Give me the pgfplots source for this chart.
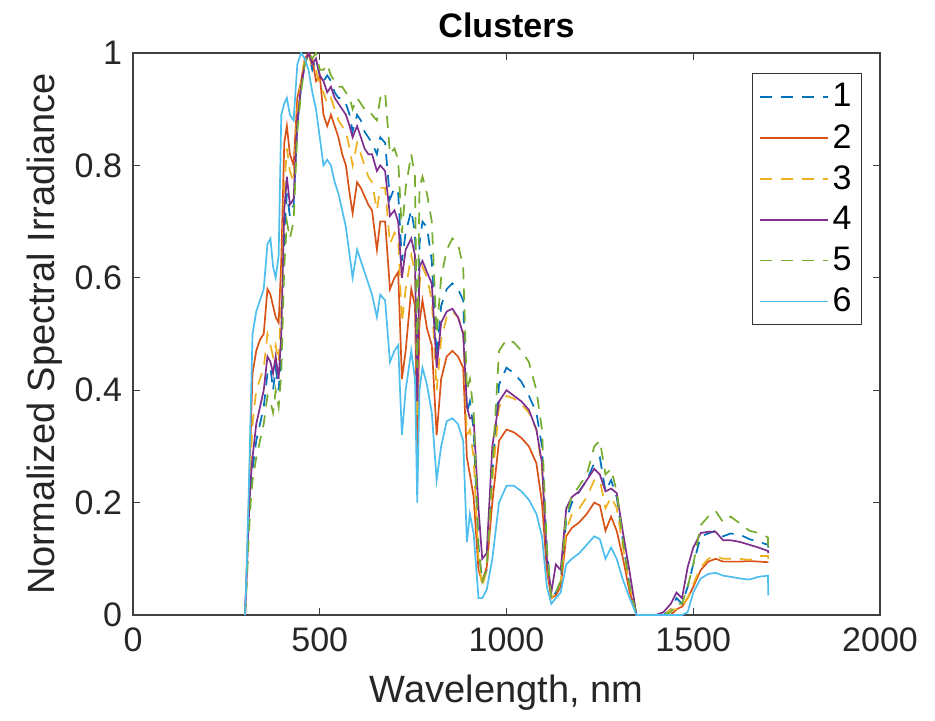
\documentclass[border=0pt]{standalone}
\usepackage{fontspec}
\setmainfont{Liberation Sans}
\usepackage{pgfplots}
\usepackage{pgfplotstable}
\pgfplotsset{compat=1.18}
\definecolor{c1}{rgb}{0,0.447,0.741}
\definecolor{c2}{rgb}{0.850,0.325,0.098}
\definecolor{c3}{rgb}{0.929,0.694,0.125}
\definecolor{c4}{rgb}{0.494,0.184,0.556}
\definecolor{c5}{rgb}{0.466,0.674,0.188}
\definecolor{c6}{rgb}{0.301,0.745,0.933}
\pgfplotstableread{
x s1 s2 s3 s4 s5 s6
300 0.00 0.00 0.00 0.00 0.00 0.00
305 0.08 0.09 0.08 0.08 0.06 0.10
310 0.16 0.20 0.18 0.17 0.14 0.22
315 0.22 0.32 0.27 0.24 0.20 0.36
320 0.26 0.43 0.34 0.28 0.24 0.50
330 0.31 0.47 0.40 0.34 0.28 0.54
340 0.34 0.49 0.42 0.37 0.31 0.56
350 0.37 0.50 0.44 0.40 0.34 0.58
360 0.43 0.58 0.50 0.46 0.39 0.66
368 0.44 0.57 0.48 0.45 0.38 0.67
375 0.40 0.55 0.46 0.43 0.36 0.62
382 0.44 0.53 0.48 0.46 0.40 0.60
390 0.40 0.52 0.45 0.42 0.37 0.64
397 0.47 0.63 0.56 0.50 0.43 0.89
405 0.68 0.84 0.76 0.72 0.62 0.91
412 0.75 0.87 0.83 0.78 0.70 0.92
420 0.71 0.82 0.79 0.73 0.67 0.89
430 0.73 0.80 0.77 0.74 0.70 0.88
440 0.87 0.92 0.90 0.88 0.86 0.98
450 0.94 0.95 0.95 0.94 0.93 1.00
460 0.98 0.99 0.99 0.98 0.98 0.99
470 1.00 1.00 1.00 1.00 1.00 0.97
480 0.97 0.99 0.97 0.98 0.99 0.93
490 0.99 0.95 0.97 0.99 1.00 0.90
500 0.96 0.96 0.94 0.96 0.97 0.85
510 0.95 0.89 0.93 0.95 0.97 0.80
520 0.96 0.87 0.91 0.93 0.98 0.81
530 0.95 0.89 0.92 0.94 0.96 0.80
540 0.93 0.87 0.90 0.92 0.95 0.77
550 0.92 0.85 0.88 0.91 0.94 0.75
560 0.92 0.82 0.87 0.90 0.94 0.72
570 0.91 0.80 0.86 0.89 0.93 0.69
580 0.89 0.75 0.83 0.87 0.92 0.64
588 0.86 0.715 0.80 0.85 0.90 0.60
600 0.89 0.77 0.84 0.87 0.92 0.65
610 0.88 0.76 0.82 0.85 0.91 0.63
620 0.86 0.745 0.80 0.83 0.90 0.61
630 0.85 0.73 0.78 0.82 0.90 0.59
640 0.84 0.72 0.77 0.82 0.89 0.57
653 0.82 0.65 0.72 0.79 0.88 0.53
662 0.85 0.70 0.76 0.80 0.92 0.57
675 0.84 0.70 0.76 0.79 0.93 0.56
688 0.74 0.58 0.66 0.71 0.82 0.45
700 0.76 0.60 0.68 0.72 0.83 0.47
710 0.75 0.61 0.67 0.70 0.81 0.48
720 0.63 0.42 0.52 0.60 0.68 0.32
730 0.68 0.47 0.58 0.65 0.76 0.40
745 0.72 0.58 0.64 0.67 0.82 0.47
755 0.68 0.55 0.61 0.64 0.78 0.42
761 0.40 0.30 0.35 0.38 0.44 0.20
767 0.66 0.52 0.59 0.62 0.76 0.40
775 0.70 0.56 0.62 0.63 0.78 0.44
787 0.69 0.51 0.60 0.61 0.75 0.41
800 0.63 0.48 0.56 0.59 0.70 0.36
813 0.46 0.32 0.40 0.44 0.50 0.24
825 0.55 0.42 0.49 0.52 0.60 0.30
840 0.58 0.46 0.53 0.54 0.65 0.345
855 0.59 0.47 0.54 0.545 0.67 0.35
870 0.58 0.46 0.53 0.53 0.66 0.34
884 0.56 0.44 0.51 0.50 0.62 0.31
894 0.36 0.28 0.32 0.37 0.40 0.13
902 0.38 0.25 0.33 0.35 0.42 0.18
912 0.33 0.21 0.28 0.35 0.36 0.145
925 0.12 0.08 0.10 0.19 0.12 0.03
935 0.06 0.06 0.05 0.10 0.06 0.03
947 0.08 0.085 0.08 0.11 0.08 0.045
962 0.25 0.20 0.24 0.30 0.26 0.10
980 0.41 0.31 0.37 0.38 0.47 0.20
1000 0.44 0.33 0.39 0.40 0.49 0.23
1020 0.43 0.325 0.385 0.39 0.485 0.23
1040 0.415 0.315 0.375 0.38 0.47 0.22
1060 0.39 0.30 0.36 0.365 0.45 0.205
1080 0.36 0.27 0.33 0.33 0.40 0.18
1095 0.30 0.20 0.26 0.27 0.33 0.14
1108 0.12 0.08 0.10 0.10 0.12 0.05
1120 0.03 0.03 0.03 0.04 0.03 0.02
1132 0.04 0.035 0.04 0.09 0.04 0.03
1145 0.06 0.05 0.06 0.08 0.06 0.04
1160 0.17 0.14 0.15 0.19 0.18 0.09
1175 0.20 0.155 0.18 0.21 0.21 0.10
1195 0.22 0.165 0.19 0.22 0.23 0.11
1215 0.24 0.18 0.21 0.24 0.25 0.125
1235 0.27 0.20 0.24 0.26 0.30 0.14
1250 0.28 0.195 0.24 0.25 0.31 0.135
1265 0.22 0.15 0.19 0.22 0.25 0.10
1280 0.24 0.175 0.21 0.225 0.26 0.12
1295 0.21 0.15 0.19 0.217 0.22 0.10
1312 0.13 0.10 0.12 0.146 0.13 0.062
1330 0.05 0.04 0.05 0.075 0.05 0.03
1348 0.00 0.00 0.00 0.00 0.00 0.00
1400 0.00 0.00 0.00 0.00 0.00 0.00
1420 0.00 0.00 0.00 0.005 0.00 0.00
1440 0.01 0.00 0.01 0.02 0.005 0.00
1455 0.03 0.01 0.01 0.04 0.02 0.00
1470 0.02 0.015 0.015 0.03 0.02 0.00
1485 0.05 0.03 0.03 0.085 0.05 0.005
1500 0.09 0.05 0.055 0.12 0.09 0.04
1520 0.14 0.08 0.085 0.146 0.16 0.065
1540 0.145 0.095 0.10 0.148 0.175 0.073
1560 0.15 0.10 0.105 0.148 0.185 0.075
1580 0.14 0.095 0.10 0.133 0.165 0.07
1600 0.145 0.095 0.10 0.133 0.175 0.068
1625 0.143 0.095 0.10 0.13 0.163 0.065
1650 0.135 0.096 0.098 0.125 0.15 0.063
1675 0.13 0.095 0.105 0.12 0.146 0.068
1700 0.125 0.094 0.105 0.114 0.138 0.07
1701 0.12 0.094 0.10 0.11 0.11 0.035
}\spectra
\begin{document}
\begin{tikzpicture}
\useasboundingbox (-66.5pt,-53pt) rectangle (401pt,307.5pt);
\begin{axis}[
  at={(0,0)}, anchor=south west,
  scale only axis, width=373.5pt, height=281pt,
  xmin=0, xmax=2000, ymin=0, ymax=1,
  xtick={0,500,1000,1500,2000}, xticklabels={0,500,1000,1500,2000},
  ytick={0,0.2,0.4,0.6,0.8,1}, yticklabels={0,0.2,0.4,0.6,0.8,1},
  tick align=inside, tick pos=both, major tick length=3.5pt,
  tick style={line width=0.6pt, color=black!75},
  axis line style={line width=0.6pt, color=black!75},
  ticklabel style={font=\fontsize{17}{20}\selectfont, color=black!85},
  xticklabel style={yshift=-3pt},
  yticklabel style={xshift=-2pt},
  xlabel={Wavelength, nm}, ylabel={Normalized Spectral Irradiance},
  label style={font=\fontsize{19}{22}\selectfont, color=black!85},
  xlabel style={at={(axis description cs:0.5,-0.1388)}, anchor=center},
  ylabel style={at={(axis description cs:-0.1178,0.5)}, anchor=center},
  title={Clusters},
  title style={font=\bfseries\fontsize{17}{20}\selectfont, at={(axis description cs:0.5,1.0498)}, anchor=center, yshift=-6pt},
  legend style={at={(1,1)}, anchor=north east, xshift=-9pt, yshift=-10pt,
    draw=black!80, line width=0.5pt, font=\fontsize{17}{19}\selectfont,
    inner xsep=3pt, inner ysep=3pt, row sep=3.2pt},
  legend cell align=left,
  legend image code/.code={\draw[#1] (0pt,0pt) -- (34pt,0pt);},
  every axis plot/.append style={line width=0.85pt},
]
\addplot[color=c1, dash pattern=on 6pt off 4.5pt] table[x=x,y=s1] {\spectra};
\addlegendentry{1}
\addplot[color=c2] table[x=x,y=s2] {\spectra};
\addlegendentry{2}
\addplot[color=c3, dash pattern=on 6pt off 4.5pt] table[x=x,y=s3] {\spectra};
\addlegendentry{3}
\addplot[color=c4] table[x=x,y=s4] {\spectra};
\addlegendentry{4}
\addplot[color=c5, dash pattern=on 6pt off 4.5pt] table[x=x,y=s5] {\spectra};
\addlegendentry{5}
\addplot[color=c6] table[x=x,y=s6] {\spectra};
\addlegendentry{6}
\end{axis}
\end{tikzpicture}
\end{document}
